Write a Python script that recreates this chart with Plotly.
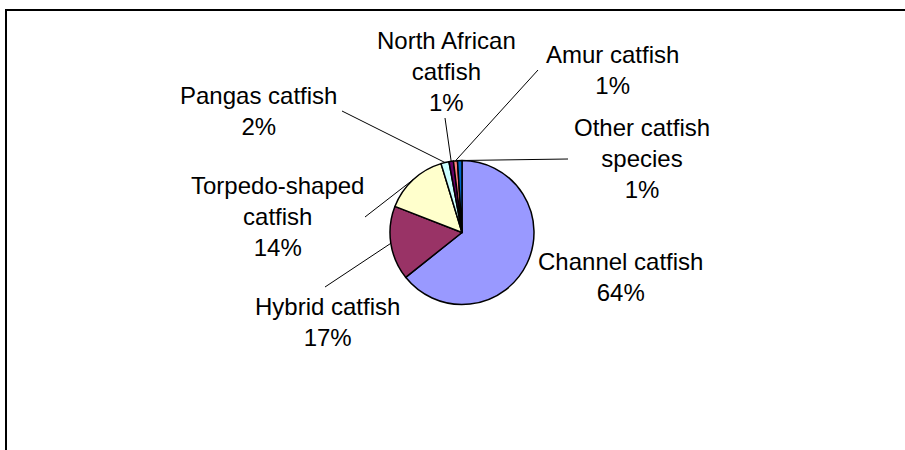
import math
import plotly.graph_objects as go

# ---- data ----
categories = ["Channel catfish", "Hybrid catfish", "Torpedo-shaped catfish",
              "Pangas catfish", "North African catfish", "Amur catfish",
              "Other catfish species"]
label_text = ["Channel catfish", "Hybrid catfish", "Torpedo-shaped<br>catfish",
              "Pangas catfish", "North African<br>catfish", "Amur catfish",
              "Other catfish<br>species"]
shares = [64.3, 16.6, 14.4, 1.8, 1.0, 0.9, 1.0]
colors = ["#9999FF", "#993366", "#FFFFCC", "#CCFFFF", "#660066", "#FF8080", "#0066CC"]

# ---- layout (pixels) ----
W, H = 905, 450
cx, cy, r = 462, 232.5, 72
# label centres (px) and leader start points (px); None = no leader
label_pos = [(620, 277), (327, 322), (277, 216), (258, 111), (446, 71), (612, 70), (642, 158)]
leader_start = [None, (325, 287), (365, 217), (342, 111), (445, 118), (538, 70), (568, 159)]

def px(x):
    return x / W

def py(y):
    return 1 - y / H

fig = go.Figure(go.Pie(
    labels=categories, values=shares, sort=False, direction="clockwise", rotation=0,
    marker=dict(colors=colors, line=dict(color="black", width=1.5)),
    textinfo="none", hoverinfo="label+percent", showlegend=False,
    domain=dict(x=[px(cx - r), px(cx + r)], y=[py(cy + r), py(cy - r)]),
))

total = sum(shares)
cum = 0.0
annotations = []
shapes = []
for i, v in enumerate(shares):
    pct = v / total * 100
    mid = (cum + v / 2) / total * 2 * math.pi
    cum += v
    lx, ly = label_pos[i]
    annotations.append(dict(
        x=px(lx), y=py(ly), xref="paper", yref="paper", showarrow=False,
        text=f"{label_text[i]}<br>{pct:.0f}%", align="center",
        xanchor="center", yanchor="middle",
        font=dict(family="Arial, Liberation Sans, sans-serif", size=24, color="black"),
    ))
    if leader_start[i] is not None:
        sx, sy = leader_start[i]
        ex = cx + r * math.sin(mid)
        ey = cy - r * math.cos(mid)
        shapes.append(dict(type="line", xref="paper", yref="paper",
                           x0=px(sx), y0=py(sy), x1=px(ex), y1=py(ey),
                           line=dict(color="black", width=1)))

# chart frame: only top and left edges fall inside the picture
shapes.append(dict(type="line", xref="paper", yref="paper",
                   x0=px(5), y0=py(10), x1=1.0, y1=py(10),
                   line=dict(color="black", width=2)))
shapes.append(dict(type="line", xref="paper", yref="paper",
                   x0=px(6), y0=py(9), x1=px(6), y1=0.0,
                   line=dict(color="black", width=2)))

fig.update_layout(
    width=W, height=H, autosize=False,
    margin=dict(l=0, r=0, t=0, b=0),
    paper_bgcolor="white", plot_bgcolor="white",
    annotations=annotations, shapes=shapes,
)

fig.write_html("out.html")
